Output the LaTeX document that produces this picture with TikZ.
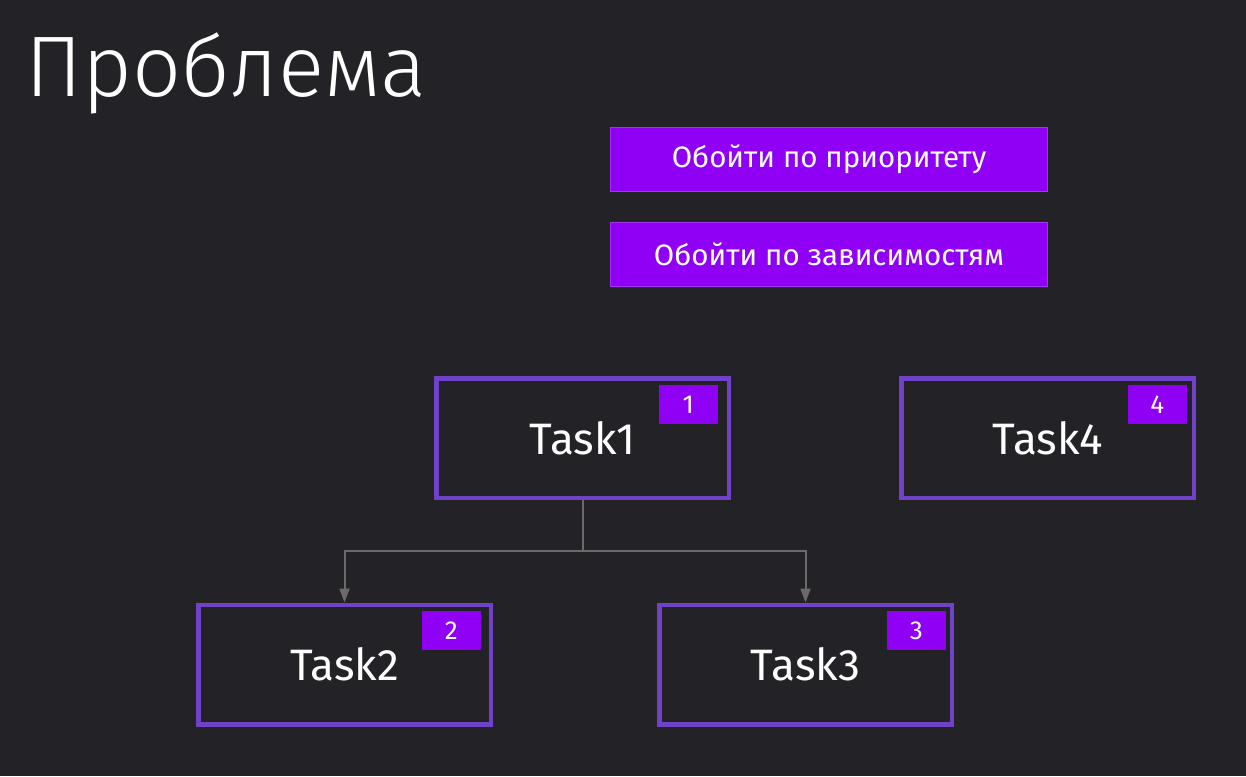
\documentclass[tikz,border=0pt]{standalone}
\usepackage{fontspec}
\setmainfont{Fira Sans}
\newfontfamily\titlefont{Fira Sans Light}
\usetikzlibrary{arrows.meta}
\definecolor{bg}{HTML}{232227}
\definecolor{vio}{HTML}{8F00F5}
\definecolor{taskborder}{HTML}{7042C8}
\definecolor{conncol}{HTML}{6A6A6A}
\begin{document}
\begin{tikzpicture}[x=1pt,y=-1pt,
  btn/.style={fill=vio,draw=vio!80!white,line width=0.8pt,minimum width=437pt,minimum height=64pt,inner sep=0pt,text=white,font=\fontsize{29.5}{34}\selectfont},
  taskbox/.style={draw=taskborder,line width=4.5pt,fill=bg,minimum width=292.5pt,minimum height=119.5pt,inner sep=0pt,text=white,font=\fontsize{44}{50}\selectfont},
  badge/.style={fill=vio,minimum width=59pt,minimum height=39pt,inner sep=0pt,text=white,font=\fontsize{26}{30}\selectfont,anchor=north east},
  conn/.style={draw=conncol,line width=2pt,-{Triangle[width=10pt,length=14pt]}}]
\fill[bg] (0,0) rectangle (1246,776);
\useasboundingbox (0,0) rectangle (1246,776);
\node[anchor=base west,text=white,font=\titlefont\fontsize{86}{94}\selectfont,inner sep=0pt] (title) at (25,96) {Проблема};
\node[btn] (b1) at (829,159.5) {Обойти по приоритету};
\node[btn] (b2) at (829,254.5) {Обойти по зависимостям};
\node[taskbox] (t1) at (582.5,438) {Task1};
\node[taskbox] (t4) at (1047.5,438) {Task4};
\node[taskbox] (t2) at (344.5,664.5) {Task2};
\node[taskbox] (t3) at (805.5,664.5) {Task3};
\node[badge] (n1) at (718,385) {1};
\node[badge] (n4) at (1187,385) {4};
\node[badge] (n2) at (481,611) {2};
\node[badge] (n3) at (946,611) {3};
\coordinate (split) at (582.5,551);
\draw[draw=conncol,line width=2pt] (t1.south) -- (split);
\draw[conn] (split) -| (t2.north);
\draw[conn] (split) -| (t3.north);
\end{tikzpicture}
\end{document}
